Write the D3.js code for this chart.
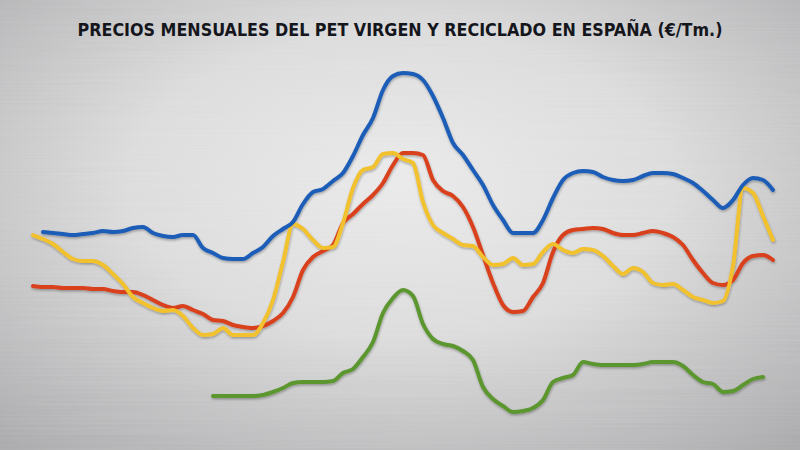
<!DOCTYPE html>
<html>
<head>
<meta charset="utf-8">
<script src="https://cdn.jsdelivr.net/npm/d3@7"></script>
<style>
  html, body { margin: 0; padding: 0; background: #c8c8c8; }
  svg { display: block; }
</style>
</head>
<body>
<div id="chart"></div>
<script>
// monthly prices, €/Tm
const months = d3.range(75);

const virgenPET = [null, 952, 948, 944, 940, 944, 948, 956, 952, 956,
  968, 972, 948, 936, 932, 940, 940, 888, 868, 848,
  844, 844, 868, 892, 936, 964, 992, 1064, 1112, 1124,
  1156, 1188, 1256, 1340, 1408, 1520, 1576, 1588, 1584, 1560,
  1496, 1408, 1308, 1260, 1200, 1140, 1060, 1000, 948, 948,
  948, 1000, 1088, 1160, 1188, 1196, 1192, 1172, 1160, 1156,
  1160, 1176, 1188, 1188, 1184, 1168, 1148, 1116, 1080, 1048,
  1080, 1140, 1168, 1160, 1120];

const recicladoRojo = [736, 732, 732, 728, 728, 728, 724, 724, 716, 712,
  712, 700, 680, 660, 648, 656, 640, 624, 600, 596,
  580, 572, 568, 576, 596, 628, 692, 800, 852, 876,
  900, 988, 1024, 1064, 1100, 1148, 1220, 1268, 1268, 1260,
  1160, 1116, 1096, 1052, 972, 860, 748, 660, 632, 636,
  692, 748, 872, 940, 960, 964, 968, 964, 948, 940,
  940, 948, 956, 948, 932, 900, 840, 788, 748, 740,
  760, 828, 856, 860, 840];

const recicladoAmarillo = [940, 924, 904, 872, 844, 836, 836, 820, 784, 744,
  692, 668, 648, 636, 640, 616, 568, 540, 544, 568,
  540, 540, 540, 588, 680, 832, 984, 964, 920, 888,
  892, 988, 1128, 1200, 1212, 1264, 1268, 1244, 1228, 1072,
  980, 948, 924, 900, 896, 852, 820, 824, 848, 820,
  824, 872, 904, 880, 868, 884, 880, 856, 816, 784,
  808, 792, 748, 740, 744, 720, 692, 680, 668, 676,
  816, 1128, 1108, 1016, 920];

const recicladoVerde = [null, null, null, null, null, null, null, null, null, null,
  null, null, null, null, null, null, null, null, 296, 296,
  296, 296, 296, 300, 312, 328, 348, 352, 352, 352,
  356, 388, 404, 452, 512, 628, 688, 720, 696, 584,
  524, 504, 496, 476, 440, 332, 284, 256, 232, 236,
  248, 280, 352, 368, 380, 432, 424, 420, 420, 420,
  420, 424, 432, 432, 432, 416, 380, 352, 344, 312,
  316, 340, 364, 372, null];

const seriesNames = ["verde", "rojo", "amarillo", "azul"];
const seriesValues = [recicladoVerde, recicladoRojo, recicladoAmarillo, virgenPET];
const seriesColors = ["#5b962f", "#d9401e", "#f1c12f", "#1d5db7"];

const title = "PRECIOS MENSUALES DEL PET VIRGEN Y RECICLADO EN ESPAÑA (€/Tm.)";

const width = 800;
const height = 450;

const svg = d3.select("#chart")
  .append("svg")
  .attr("width", width)
  .attr("height", height)
  .attr("viewBox", `0 0 ${width} ${height}`);

const defs = svg.append("defs");

// brushed metal look
const bg = defs.append("radialGradient")
  .attr("id", "metal")
  .attr("cx", "50%").attr("cy", "42%")
  .attr("r", "75%")
  .attr("fx", "50%").attr("fy", "40%");
bg.append("stop").attr("offset", "0%").attr("stop-color", "#e9e9ea");
bg.append("stop").attr("offset", "45%").attr("stop-color", "#dbdbdc");
bg.append("stop").attr("offset", "100%").attr("stop-color", "#a8a8aa");

const brush = defs.append("filter")
  .attr("id", "brush")
  .attr("x", 0).attr("y", 0).attr("width", "100%").attr("height", "100%");
brush.append("feTurbulence")
  .attr("type", "fractalNoise")
  .attr("baseFrequency", "0.004 0.6")
  .attr("numOctaves", 2)
  .attr("seed", 3)
  .attr("result", "noise");
brush.append("feColorMatrix")
  .attr("type", "matrix")
  .attr("values", "0 0 0 0 1  0 0 0 0 1  0 0 0 0 1  0 0 0 0.13 0");

const shadow = defs.append("filter")
  .attr("id", "shadow")
  .attr("x", "-5%").attr("y", "-10%").attr("width", "110%").attr("height", "130%");
shadow.append("feDropShadow")
  .attr("dx", 0.5).attr("dy", 1.5)
  .attr("stdDeviation", 1.2)
  .attr("flood-color", "#000")
  .attr("flood-opacity", 0.3);

svg.append("rect")
  .attr("width", width).attr("height", height)
  .attr("fill", "url(#metal)");

svg.append("rect")
  .attr("width", width).attr("height", height)
  .attr("filter", "url(#brush)")
  .attr("fill", "#fff");

// title: size the font so the line runs about 645px wide, like the picture
const titleEl = svg.append("text")
  .attr("x", 400)
  .attr("y", 36)
  .attr("text-anchor", "middle")
  .style("font-family", "'Liberation Sans Narrow', 'DejaVu Sans Condensed', Roboto, sans-serif")
  .style("font-weight", "700")
  .style("font-size", "20px")
  .style("fill", "#15161c")
  .text(title);

const natural = titleEl.node().getComputedTextLength();
if (natural > 0) {
  const fs = Math.max(14, Math.min(22, 20 * 645 / natural));
  titleEl.style("font-size", fs + "px");
}

const x = d3.scaleLinear()
  .domain([0, months.length - 1])
  .range([33, 773]);

const y = d3.scaleLinear()
  .domain([0, 1600])
  .range([470, 70]);

const line = d3.line()
  .defined(d => d.v != null)
  .x(d => x(d.m))
  .y(d => y(d.v))
  .curve(d3.curveMonotoneX);

const g = svg.append("g").attr("filter", "url(#shadow)");

seriesValues.forEach((vals, k) => {
  const pts = months.map(m => ({ m, v: vals[m] }));
  g.append("path")
    .datum(pts)
    .attr("class", "serie-" + seriesNames[k])
    .attr("fill", "none")
    .attr("stroke", seriesColors[k])
    .attr("stroke-width", 4)
    .attr("stroke-linecap", "round")
    .attr("stroke-linejoin", "round")
    .attr("d", line);
});
</script>
</body>
</html>
